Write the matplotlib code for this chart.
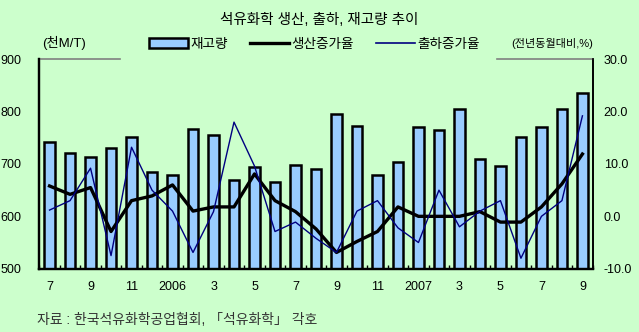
import numpy as np
import matplotlib
matplotlib.use("Agg")
import matplotlib.pyplot as plt
from matplotlib.patches import Patch
from matplotlib.lines import Line2D

plt.rcParams['font.family'] = ['Liberation Sans', 'Noto Sans CJK KR', 'DejaVu Sans']

# 월별 재고량(천M/T)과 전년동월대비 증가율(%), 2005.7 ~ 2007.9
재고량 = [742, 721, 714, 731, 752, 685, 679, 767, 756, 670, 695, 666, 699, 691,
         795, 772, 679, 704, 770, 764, 805, 710, 696, 752, 770, 805, 836]
생산증가율 = [5.8, 4.2, 5.5, -2.9, 3.0, 3.9, 6.0, 1.0, 1.8, 1.8, 8.1, 3.0, 0.9, -2.4,
          -6.9, -4.8, -2.9, 1.8, 0.0, 0.0, 0.0, 0.9, -1.1, -1.1, 1.8, 6.2, 11.9]
출하증가율 = [1.2, 3.0, 9.2, -7.5, 13.2, 5.0, 1.0, -6.9, 0.9, 18.0, 9.6, -2.9, -1.1, -4.2,
          -6.9, 1.0, 3.0, -2.2, -5.0, 5.0, -2.0, 1.0, 3.0, -8.0, 0.0, 3.0, 19.2]
월라벨 = ['7', '9', '11', '2006', '3', '5', '7', '9', '11', '2007', '3', '5', '7', '9']

bg = '#CCFFCC'
x = np.arange(len(재고량))

fig = plt.figure(figsize=(6.39, 3.32), dpi=100, facecolor=bg)
ax = fig.add_axes([0.0615, 0.1907, 0.866, 0.6307])
ax.set_facecolor(bg)

ax.bar(x, 재고량, width=0.5, color='#99CCFF', edgecolor='black', linewidth=1.8, zorder=2)
ax.set_xlim(-0.5, len(x) - 0.5)
ax.set_ylim(500, 900)
ax.set_yticks([500, 600, 700, 800, 900])

ax2 = ax.twinx()
ax2.plot(x, 생산증가율, color='black', linewidth=2.4, zorder=3)
ax2.plot(x, 출하증가율, color='#000080', linewidth=1.0, zorder=4)
ax2.set_ylim(-10, 30)
ax2.set_yticks([-10, 0, 10, 20, 30])
ax2.set_yticklabels([f'{v:.1f}' for v in [-10, 0, 10, 20, 30]])

ax.set_xticks(x[::2])
ax.set_xticklabels(월라벨)
ax.set_xticks(np.arange(-0.5, len(x), 1), minor=True)
ax.tick_params(axis='x', which='major', length=0, pad=9, labelsize=9)
ax.tick_params(axis='x', which='minor', direction='in', length=3, width=1)
ax.tick_params(axis='y', length=0, pad=13, labelsize=9)
ax2.tick_params(axis='y', length=0, pad=8, labelsize=9)

for a in (ax, ax2):
    a.spines['top'].set_visible(False)
    a.spines['left'].set_linewidth(1.6)
    a.spines['bottom'].set_linewidth(1.6)
    a.spines['right'].set_linewidth(1.2)

# 상단 테두리는 범례 양쪽만 회색으로
for x0, x1 in [(0, 0.146), (0.828, 1)]:
    ax2.add_line(Line2D([x0, x1], [1, 1], transform=ax2.transAxes, color='#808080',
                        linewidth=1.2, clip_on=False))

handles = [Patch(facecolor='#99CCFF', edgecolor='black', linewidth=1.8),
           Line2D([], [], color='black', linewidth=2.4),
           Line2D([], [], color='#000080', linewidth=1.2)]
ax2.legend(handles, ['재고량', '생산증가율', '출하증가율'], ncol=3, loc='center',
           bbox_to_anchor=(0.497, 1.075), frameon=False, fontsize=9.8,
           handlelength=2.9, handletextpad=0.15, columnspacing=1.6)

fig.text(0.5, 0.94, '석유화학 생산, 출하, 재고량 추이', ha='center', va='center', fontsize=10.5)
fig.text(0.066, 0.87, '(천M/T)', ha='left', va='center', fontsize=9.5)
fig.text(0.928, 0.87, '(전년동월대비,%)', ha='right', va='center', fontsize=8)
fig.text(0.058, 0.035, '자료 : 한국석유화학공업협회, 「석유화학」 각호', ha='left', va='center',
         fontsize=10, color='#333333')

fig.savefig('out.png', dpi=100, facecolor=bg)
